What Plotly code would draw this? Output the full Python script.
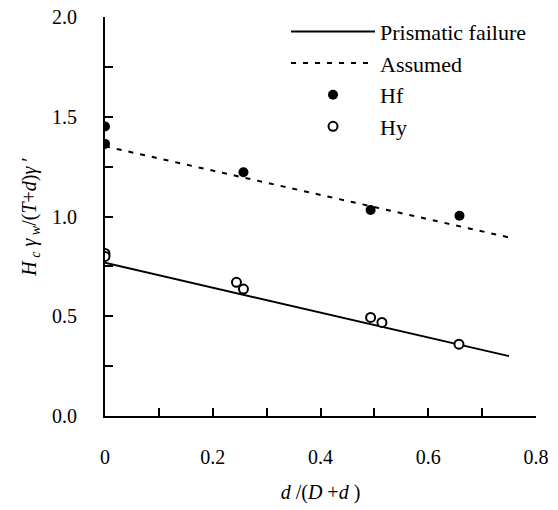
import plotly.graph_objects as go

# Data
hf_x = [0.0, 0.0, 0.257, 0.493, 0.658]
hf_y = [1.451, 1.364, 1.222, 1.033, 1.004]
hy_x = [0.0, 0.0, 0.244, 0.257, 0.493, 0.514, 0.657]
hy_y = [0.815, 0.80, 0.670, 0.636, 0.494, 0.469, 0.360]
prism_x = [0.0, 0.75]
prism_y = [0.768, 0.300]
assumed_x = [0.0, 0.75]
assumed_y = [1.352, 0.895]

x_ticks = [0, 0.2, 0.4, 0.6, 0.8]
x_ticktext = ["0", "0.2", "0.4", "0.6", "0.8"]
y_ticks = [0.0, 0.5, 1.0, 1.5, 2.0]
y_ticktext = ["0.0", "0.5", "1.0", "1.5", "2.0"]

font = "Liberation Serif"
fs = 20

fig = go.Figure()
fig.add_trace(go.Scatter(x=prism_x, y=prism_y, mode="lines", name="Prismatic failure",
                         line=dict(color="black", width=2)))
fig.add_trace(go.Scatter(x=assumed_x, y=assumed_y, mode="lines", name="Assumed",
                         line=dict(color="black", width=2, dash="5px,7px")))
fig.add_trace(go.Scatter(x=hf_x, y=hf_y, mode="markers", name="Hf",
                         marker=dict(color="black", size=10, symbol="circle")))
fig.add_trace(go.Scatter(x=hy_x, y=hy_y, mode="markers", name="Hy",
                         marker=dict(color="white", size=9, symbol="circle",
                                     line=dict(color="black", width=2))))

fig.update_layout(
    width=558, height=510,
    margin=dict(l=105, r=22, t=17, b=94, autoexpand=False),
    plot_bgcolor="white", paper_bgcolor="white",
    font=dict(family=font, size=fs, color="black"),
    showlegend=True,
    legend=dict(x=0.42, y=0.979, yref="container", xanchor="left", yanchor="top",
                bgcolor="rgba(0,0,0,0)", itemwidth=84,
                font=dict(family=font, size=22), tracegroupgap=0),
    xaxis=dict(range=[0, 0.8], tickvals=x_ticks, ticktext=x_ticktext,
               showline=True, linecolor="black", linewidth=2,
               ticks="inside", ticklen=8, tickwidth=2, tickcolor="black",
               minor=dict(dtick=0.1, ticks="inside", ticklen=8, tickwidth=2, tickcolor="black"),
               showgrid=False, zeroline=False, ticklabelstandoff=22,
               tickfont=dict(family=font, size=fs),
               title=dict(text="<i>d</i> /(<i>D</i> +<i>d</i> )", standoff=18,
                          font=dict(family=font, size=fs))),
    yaxis=dict(range=[0, 2.0], tickvals=y_ticks, ticktext=y_ticktext,
               showline=True, linecolor="black", linewidth=2,
               ticks="inside", ticklen=8, tickwidth=2, tickcolor="black",
               minor=dict(dtick=0.25, ticks="inside", ticklen=8, tickwidth=2, tickcolor="black"),
               showgrid=False, zeroline=False, ticklabelstandoff=22,
               tickfont=dict(family=font, size=fs),
               title=dict(text="<i>H</i><sub><i> c</i></sub><i> γ</i><sub><i> w</i></sub>/(<i>T</i>+<i>d</i>)<i>γ</i> ′",
                          standoff=10, font=dict(family=font, size=fs))),
)

fig.write_html("out.html")
